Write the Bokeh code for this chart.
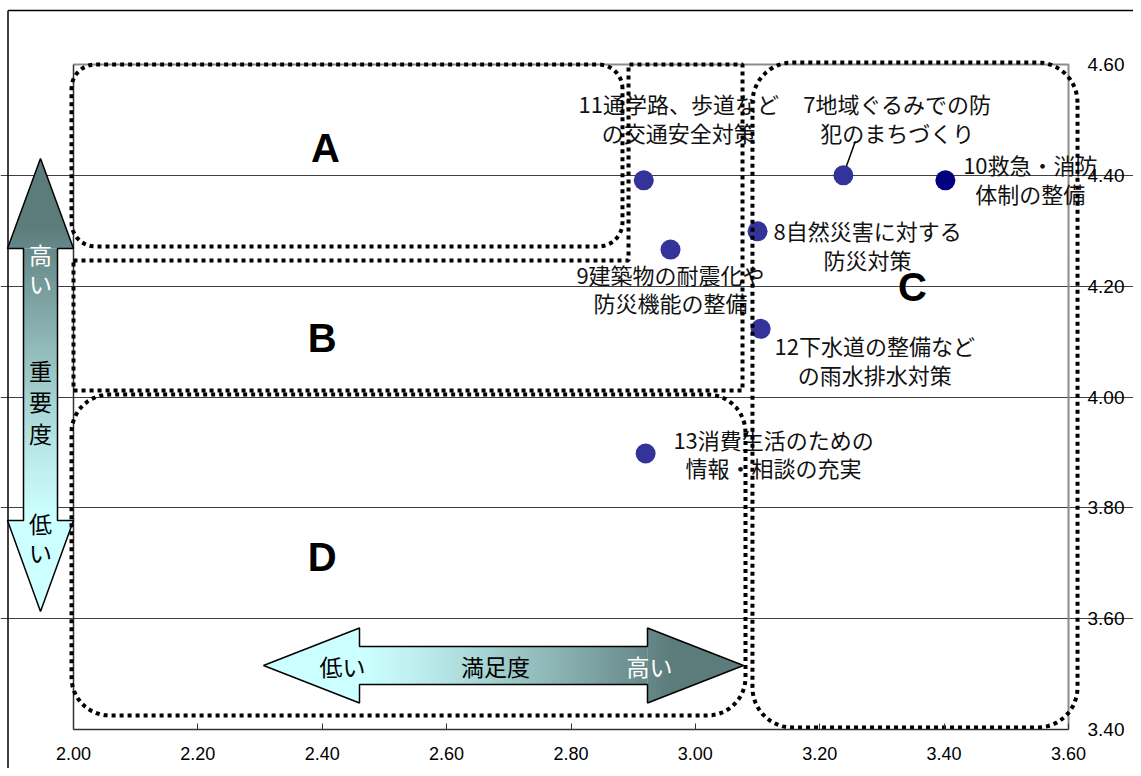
import numpy as np
from bokeh.plotting import figure
from bokeh.models import Range1d, FixedTicker, PrintfTickFormatter
from bokeh.core.properties import value
from bokeh.embed import file_html
from bokeh.resources import INLINE

# ---------------- data ----------------
item_labels = [
    "7地域ぐるみでの防\n犯のまちづくり",
    "8自然災害に対する\n防災対策",
    "9建築物の耐震化や\n防災機能の整備",
    "10救急・消防\n体制の整備",
    "11通学路、歩道など\nの交通安全対策",
    "12下水道の整備など\nの雨水排水対策",
    "13消費生活のための\n情報・相談の充実",
]
satisfaction = [3.238, 3.100, 2.960, 3.402, 2.917, 3.105, 2.920]   # x
importance = [4.400, 4.299, 4.266, 4.391, 4.391, 4.123, 3.898]     # y
point_colors = ["#333399", "#333399", "#333399", "#000080", "#333399", "#333399", "#333399"]
label_dx_px = [54, 110, 0, 85, 35, 114, 128]          # label centre offset (px, right)
label_dy_px = [-57.5, 13, 38.5, -2, -62.5, 30.5, -0.5]  # label centre offset (px, down)

x_ticks = [2.0, 2.2, 2.4, 2.6, 2.8, 3.0, 3.2, 3.4, 3.6]
y_ticks = [3.4, 3.6, 3.8, 4.0, 4.2, 4.4, 4.6]
grid_ticks = [3.6, 3.8, 4.0, 4.2, 4.4]

quadrant_names = ["A", "B", "C", "D"]
quadrant_name_x = [2.405, 2.400, 3.349, 2.400]
quadrant_name_y = [4.450, 4.107, 4.198, 3.712]

# region outlines in axis units: (left, right, bottom, top, corner radius px)
region_A = (1.9968, 2.8828, 4.2716, 4.6000, 24)
region_C = (3.0918, 3.6145, 3.4036, 4.6036, 40)
region_D = (1.9968, 3.0806, 3.4253, 4.0045, 38)
region_B_x = [2.000, 2.8925, 2.8925, 3.0758, 3.0758, 2.000, 2.000]
region_B_y = [4.2463, 4.2463, 4.600, 4.600, 4.0117, 4.0117, 4.2463]

# ---------------- layout ----------------
W, H = 1133, 768
X0, X1, Y0, Y1 = 2.0, 3.6, 3.4, 4.6
# pixel positions of the plot box
PL, PR, PT, PB = 73, 1068, 64, 729
kx = (PR - PL) / (X1 - X0)
ky = (PB - PT) / (Y1 - Y0)


def PX(px):
    return X0 + (px - PL) / kx


def PY(py):
    return Y1 - (py - PT) / ky


x_range = Range1d(PX(0), PX(W))
y_range = Range1d(PY(H), PY(0))

p = figure(width=W, height=H, x_range=x_range, y_range=y_range,
           output_backend="svg", toolbar_location=None,
           x_axis_location="below", y_axis_location="right",
           min_border=0, min_border_left=0, min_border_right=0,
           min_border_top=0, min_border_bottom=0)
p.outline_line_color = None
p.background_fill_color = "white"
p.border_fill_color = "white"

# axes
p.xaxis.fixed_location = Y0
p.xaxis.bounds = (X0, X1)
p.xaxis.ticker = FixedTicker(ticks=x_ticks)
p.xaxis.formatter = PrintfTickFormatter(format="%.2f")
p.xaxis.axis_line_color = "#333333"
p.xaxis.axis_line_width = 1.5
p.xaxis.major_tick_in = 6
p.xaxis.major_tick_out = 0
p.xaxis.major_tick_line_color = "#333333"
p.xaxis.minor_tick_line_color = None
p.xaxis.major_label_standoff = 17
p.xaxis.major_label_text_font = "Liberation Sans"
p.xaxis.major_label_text_font_size = "18px"
p.xaxis.major_label_text_color = "black"

p.yaxis.fixed_location = PX(1082)
p.yaxis.bounds = (Y0, Y1)
p.yaxis.ticker = FixedTicker(ticks=y_ticks)
p.yaxis.formatter = PrintfTickFormatter(format="%.2f")
p.yaxis.axis_line_color = None
p.yaxis.major_tick_in = 0
p.yaxis.major_tick_out = 0
p.yaxis.major_tick_line_color = None
p.yaxis.minor_tick_line_color = None
p.yaxis.major_label_standoff = 5
p.yaxis.major_label_text_font = "Liberation Sans"
p.yaxis.major_label_text_font_size = "19px"
p.yaxis.major_label_text_color = "black"

p.xgrid.visible = False
p.ygrid.ticker = FixedTicker(ticks=grid_ticks)
p.ygrid.bounds = (X0, X1)
p.ygrid.grid_line_color = "#404040"
p.ygrid.grid_line_width = 1

# plot box edges
p.line([X0, X1, X1], [Y1, Y1, Y0], line_color="#8c8c8c", line_width=2)
p.line([X0, X0], [Y0, Y1], line_color="#333333", line_width=1.5)

# outer chart border (left and top)
p.line([PX(7.5), PX(7.5)], [y_range.start, PY(10)], line_color="black", line_width=1.5)
p.line([PX(7.5), x_range.end], [PY(10), PY(10)], line_color="black", line_width=1.5)

# ---------------- gradient arrows ----------------
light = np.array([204, 255, 255], dtype=float)
dark = np.array([92, 124, 124], dtype=float)


def shade(s):
    f = np.clip((s - 0.2) / 0.65, 0, 1) ** 1.2
    c = light + (dark - light) * f
    return "#%02x%02x%02x" % tuple(int(round(v)) for v in c)


def clip_band(poly, axis, lo, hi):
    def clip(pts, keep, v):
        out = []
        n = len(pts)
        for i in range(n):
            cur, prev = pts[i], pts[i - 1]
            kc, kp = keep(cur), keep(prev)
            if kc:
                if not kp:
                    t = (v - prev[axis]) / (cur[axis] - prev[axis])
                    out.append((prev[0] + t * (cur[0] - prev[0]), prev[1] + t * (cur[1] - prev[1])))
                out.append(cur)
            elif kp:
                t = (v - prev[axis]) / (cur[axis] - prev[axis])
                out.append((prev[0] + t * (cur[0] - prev[0]), prev[1] + t * (cur[1] - prev[1])))
        return out
    pts = clip(poly, lambda q: q[axis] >= lo, lo)
    if pts:
        pts = clip(pts, lambda q: q[axis] <= hi, hi)
    return pts


def gradient_arrow(pieces, outline, axis, start, end, n=110):
    xs, ys, cols = [], [], []
    edges = np.linspace(min(start, end), max(start, end), n + 1)
    for i in range(n):
        lo, hi = edges[i], edges[i + 1] + 0.8
        mid = 0.5 * (edges[i] + edges[i + 1])
        s = (mid - start) / (end - start)
        col = shade(s)
        for pc in pieces:
            pts = clip_band(pc, axis, lo, hi)
            if len(pts) >= 3:
                xs.append([PX(a) for a, b in pts])
                ys.append([PY(b) for a, b in pts])
                cols.append(col)
    p.patches(xs, ys, fill_color=cols, line_color=None)
    p.patch([PX(a) for a, b in outline], [PY(b) for a, b in outline],
            fill_color=None, line_color="black", line_width=1.5)


# vertical arrow (importance), pixel layout
v_pieces = [
    [(40, 158), (73, 248), (7, 248)],
    [(23, 248), (57, 248), (57, 520), (23, 520)],
    [(7, 520), (73, 520), (40, 611)],
]
v_outline = [(40, 158), (73, 248), (57, 248), (57, 520), (73, 520), (40, 611),
             (7, 520), (23, 520), (23, 248), (7, 248)]
gradient_arrow(v_pieces, v_outline, 1, 611, 158)

# horizontal arrow (satisfaction), pixel layout
h_pieces = [
    [(263, 665), (359, 627.5), (359, 702.5)],
    [(359, 646), (647, 646), (647, 684), (359, 684)],
    [(647, 627.5), (743, 665), (647, 702.5)],
]
h_outline = [(263, 665), (359, 627.5), (359, 646), (647, 646), (647, 627.5), (743, 665),
             (647, 702.5), (647, 684), (359, 684), (359, 702.5)]
gradient_arrow(h_pieces, h_outline, 0, 263, 743)

v_arrow_chars = ["高", "い", "重", "要", "度", "低", "い"]
v_arrow_char_py = [253, 282, 369, 400, 432, 522, 551]
v_arrow_char_color = ["white", "white", "black", "black", "black", "black", "black"]
p.text(x=[PX(40)] * len(v_arrow_chars), y=[PY(v) for v in v_arrow_char_py],
       text=v_arrow_chars, text_color=v_arrow_char_color,
       text_font=value("Noto Sans CJK JP"), text_font_size="23px",
       text_align="center", text_baseline="middle")

h_arrow_words = ["低い", "満足度", "高い"]
h_arrow_word_px = [342, 495, 649]
h_arrow_word_color = ["black", "black", "white"]
p.text(x=[PX(v) for v in h_arrow_word_px], y=[PY(665)] * 3,
       text=h_arrow_words, text_color=h_arrow_word_color,
       text_font=value("Noto Sans CJK JP"), text_font_size="23px",
       text_align="center", text_baseline="middle")

# ---------------- points and labels ----------------
p.scatter(satisfaction, importance, size=20, fill_color=point_colors, line_color=None)

lab_x = [x + dx / kx for x, dx in zip(satisfaction, label_dx_px)]
lab_y = [y - dy / ky for y, dy in zip(importance, label_dy_px)]
p.text(x=lab_x, y=lab_y, text=item_labels, text_color="#111111",
       text_font=value("Noto Sans CJK JP"), text_font_size="22px",
       text_align="center", text_baseline="middle", text_line_height=0.9)

# leader line for item 7
p.line([satisfaction[0] + 3 / kx, satisfaction[0] + 12 / kx],
       [importance[0] + 9 / ky, importance[0] + 34 / ky],
       line_color="black", line_width=1.5)

# ---------------- dotted region outlines ----------------


def rounded(box, n=14):
    l, r, b, t, rpx = box
    rx, ry = rpx / kx, rpx / ky
    xs, ys = [], []
    corners = [(r - rx, t - ry, 0, 90), (l + rx, t - ry, 90, 180),
               (l + rx, b + ry, 180, 270), (r - rx, b + ry, 270, 360)]
    for cx, cy, a0, a1 in corners:
        for a in np.linspace(np.radians(a0), np.radians(a1), n):
            xs.append(cx + rx * np.cos(a))
            ys.append(cy + ry * np.sin(a))
    xs.append(xs[0])
    ys.append(ys[0])
    return xs, ys


reg_xs, reg_ys = [], []
for box in (region_A, region_C, region_D):
    a, b = rounded(box)
    reg_xs.append(a)
    reg_ys.append(b)
reg_xs.append(region_B_x)
reg_ys.append(region_B_y)
p.multi_line(reg_xs, reg_ys, line_color="black", line_width=4, line_dash="4 4")

# quadrant names
p.text(x=quadrant_name_x, y=quadrant_name_y, text=quadrant_names, text_color="black",
       text_font=value("Liberation Sans"), text_font_style="bold", text_font_size="40px",
       text_align="center", text_baseline="middle")

open("out.html", "w").write(file_html(p, INLINE))
